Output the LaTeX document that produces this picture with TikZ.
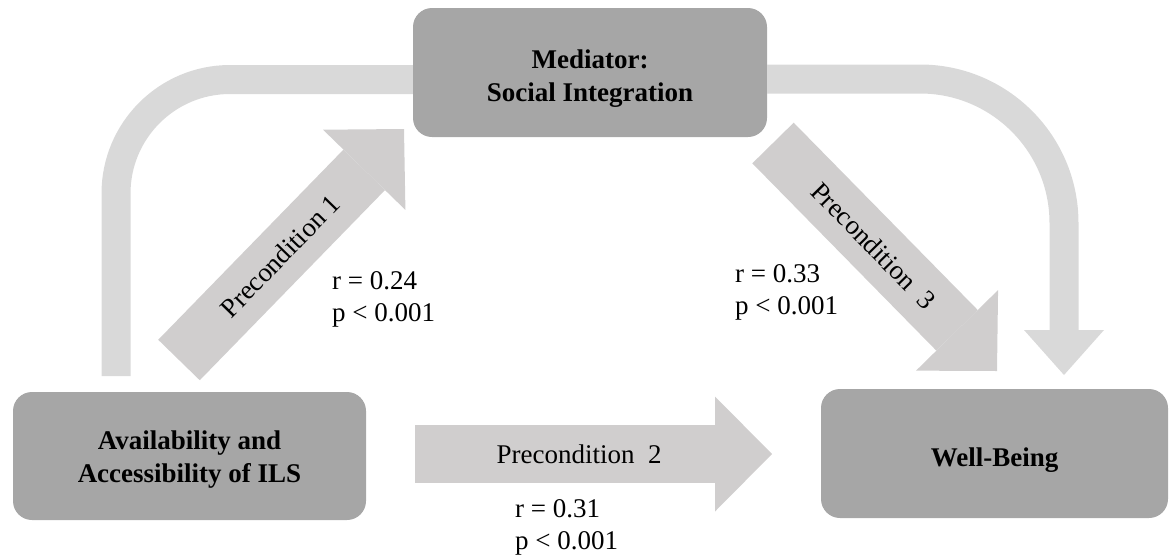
\documentclass[tikz,border=0pt]{standalone}
\usepackage{fontspec}
\setmainfont{Liberation Serif}
\usetikzlibrary{arrows.meta,positioning}
\definecolor{boxgray}{HTML}{A6A6A6}
\definecolor{bandgray}{HTML}{D9D9D9}
\definecolor{blkgray}{HTML}{D0CECE}

\begin{document}
\begin{tikzpicture}[
  x=1pt, y=-1pt,
  font=\fontsize{27}{32}\selectfont,
  box/.style={fill=boxgray, rounded corners=19pt, minimum width=354pt, minimum height=129pt,
    align=center, font=\fontsize{27}{33}\selectfont\bfseries},
  band/.style={draw=bandgray, line width=29pt},
  blk/.style={draw=blkgray, line width=58pt, -{Triangle[length=57pt, width=115pt, line width=0pt]}},
  stat/.style={align=left, anchor=west, inner sep=0pt}
]
  \useasboundingbox (0,0) rectangle (1171,558);

  \coordinate (lend) at (116,376);
  \coordinate (rend) at (1064,375);
  \coordinate (p1s) at (179,360);
  \coordinate (p1e) at (404,129);
  \coordinate (p2s) at (415,454);
  \coordinate (p2e) at (772,454);
  \coordinate (p3s) at (773,143);
  \coordinate (p3e) at (997,371);

  % struts push the labels a little below the box centre
  \node[box] (med) at (590,72.5) {\rule{0pt}{31pt}Mediator:\\Social Integration};
  \node[box, minimum width=353pt, minimum height=128pt] (avail) at (189.5,456)
    {\rule{0pt}{26pt}Availability and\\Accessibility of ILS};
  \node[box, minimum width=347pt] (well) at (994.5,453.5) {\rule{0pt}{32pt}Well-Being};

  \draw[band, rounded corners=114pt] ([yshift=-7pt]med.west) -| (lend);
  \draw[band, rounded corners=144pt, -{Triangle[length=45pt, width=80pt, line width=0pt]}]
    ([yshift=-6.5pt]med.east) -| (rend);

  \draw[blk] (p1s) -- (p1e) node[pos=.45, sloped] {Precondition 1};
  \draw[blk] (p2s) -- (p2e) node[pos=.46] {Precondition~~2};
  \draw[blk] (p3s) -- (p3e) node[pos=.45, sloped] {Precondition~~3};

  \node[stat] (s1) at (332,299) {r = 0.24\\p < 0.001};
  \node[stat] (s2) at (515,527) {r = 0.31\\p < 0.001};
  \node[stat] (s3) at (735,292) {r = 0.33\\p < 0.001};
\end{tikzpicture}
\end{document}
